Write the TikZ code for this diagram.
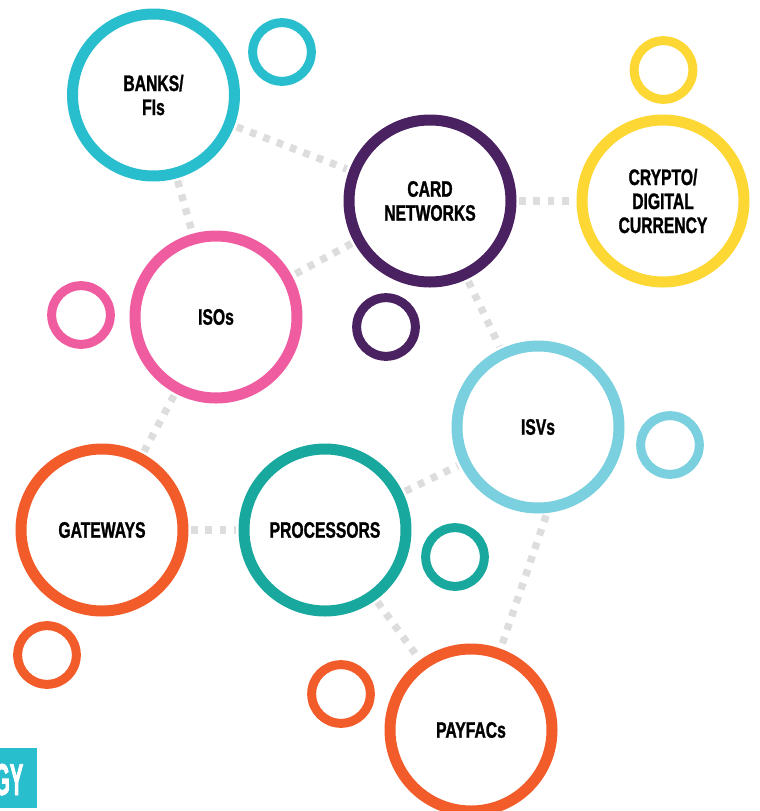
\documentclass[tikz,border=0pt]{standalone}
\usepackage{fontspec}
\setmainfont{Liberation Sans}
\newfontfamily\narrowfont[FakeStretch=0.7, BoldFeatures={FakeBold=1.2}]{Liberation Sans}
\newfontfamily\tightfont[FakeStretch=0.45, BoldFeatures={FakeBold=1.5}]{Liberation Sans}

\definecolor{banksteal}{RGB}{41,190,206}
\definecolor{cardpurple}{RGB}{74,33,97}
\definecolor{cryptoyellow}{RGB}{253,216,53}
\definecolor{isospink}{RGB}{239,93,160}
\definecolor{isvsblue}{RGB}{122,208,222}
\definecolor{payorange}{RGB}{242,92,42}
\definecolor{procteal}{RGB}{25,168,158}
\definecolor{dotgrey}{RGB}{221,221,221}

\begin{document}
\begin{tikzpicture}[x=0.75pt,y=0.75pt,yscale=-1,xscale=1,
  bigring/.style={circle, line width=8.25pt, minimum size=121.5pt, inner sep=0pt, fill=white, align=center, text=black, font=\narrowfont\bfseries\fontsize{16.8}{18}\selectfont},
  smallring/.style={circle, line width=6.75pt, minimum size=44pt, inner sep=0pt},
  link/.style={draw=dotgrey, line width=5.5pt, dash pattern=on 5pt off 5.7pt, shorten <=2pt, shorten >=2pt}]
\useasboundingbox (0,0) rectangle (760,811);

% Big rings
\node [bigring, draw=banksteal] (banks) at (153.5,95) {BANKS/\\FIs};
\node [bigring, draw=cardpurple] (card) at (430,201) {CARD\\NETWORKS};
\node [bigring, draw=cryptoyellow] (crypto) at (663,201) {CRYPTO/\\DIGITAL\\CURRENCY};
\node [bigring, draw=isospink] (isos) at (216,317) {ISOs};
\node [bigring, draw=isvsblue] (isvs) at (538,427) {ISVs};
\node [bigring, draw=payorange] (gateways) at (102,530) {GATEWAYS};
\node [bigring, draw=procteal] (processors) at (325,530) {PROCESSORS};
\node [bigring, draw=payorange] (payfacs) at (471,730) {PAYFACs};

% Small rings
\node [smallring, draw=banksteal] (banksring) at (282,52) {};
\node [smallring, draw=cryptoyellow] (cryptoring) at (663.5,70) {};
\node [smallring, draw=isospink] (isosring) at (81,315) {};
\node [smallring, draw=cardpurple] (cardring) at (386,327) {};
\node [smallring, draw=isvsblue] (isvsring) at (670,445) {};
\node [smallring, draw=procteal] (procring) at (455,557) {};
\node [smallring, draw=payorange] (gatewaysring) at (47,655) {};
\node [smallring, draw=payorange] (payfacsring) at (341,694) {};

% Dotted links
\draw [link] (banks) -- (card);
\draw [link] (banks) -- (isos);
\draw [link] (card) -- (crypto);
\draw [link] (card) -- (isos);
\draw [link] (card) -- (isvs);
\draw [link] (isos) -- (gateways);
\draw [link] (gateways) -- (processors);
\draw [link] (processors) -- (isvs);
\draw [link] (processors) -- (payfacs);
\draw [link] (isvs.-84) -- (payfacs.70);

% Corner tag
\fill [banksteal] (0,748) rectangle (37,808);
\node [anchor=base east, inner sep=0pt, text=white, font=\tightfont\bfseries\fontsize{33.5}{36}\selectfont] (tag) at (23.5,795) {GY};

\end{tikzpicture}
\end{document}
